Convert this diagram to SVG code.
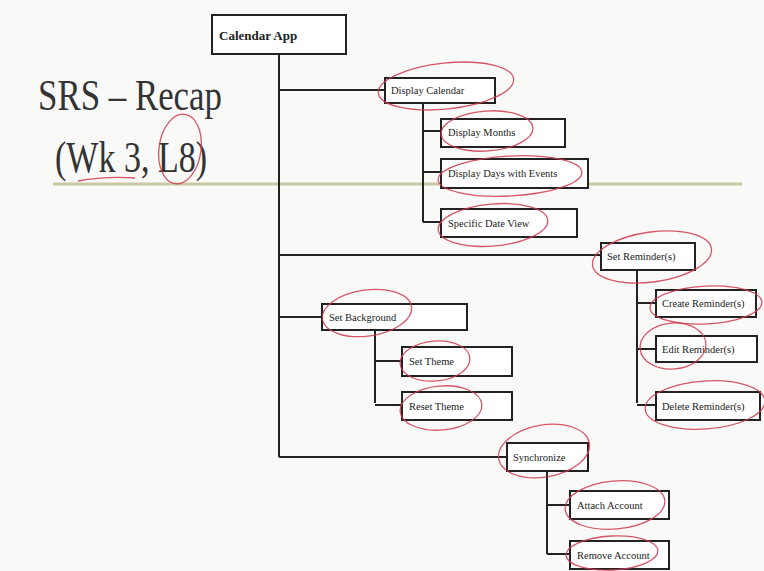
<svg xmlns="http://www.w3.org/2000/svg" width="764" height="571" viewBox="0 0 764 571">
<style>
.box{fill:#fff;stroke:#222;stroke-width:2}
.lbl{font-family:"Liberation Serif",serif;font-size:10.5px;fill:#222}
.ln{stroke:#222;stroke-width:2;fill:none}
.red{fill:none;stroke:#d03a4e;stroke-width:1.3;opacity:0.85}
</style>
<rect width="764" height="571" fill="#f9f9f8"/>
<text x="38" y="110" font-family="Liberation Serif,serif" font-size="44" fill="#333" textLength="184" lengthAdjust="spacingAndGlyphs">SRS – Recap</text>
<text x="55" y="172" font-family="Liberation Serif,serif" font-size="44" fill="#333" textLength="152" lengthAdjust="spacingAndGlyphs">(Wk 3, L8)</text>
<line x1="53" y1="184" x2="742" y2="184" stroke="#c9c9a2" stroke-width="3"/>
<g id="connectors">
<path class="ln" d="M279 54V457M279 90H385M279 255H601M279 317H322M279 457H507"/>
<path class="ln" d="M423 103V222M423 131H441M423 172H441M423 222H441"/>
<path class="ln" d="M637 270V403M637 303H656M637 349H656M637 405H656"/>
<path class="ln" d="M375 330V403M375 361H402M375 405H402"/>
<path class="ln" d="M547 471V554M547 505H570M547 554H570"/>
</g>
<g id="calendar-app"><rect class="box" x="212" y="15" width="134" height="39"/><text x="219" y="40" font-family="Liberation Serif,serif" font-size="13" font-weight="bold" fill="#222">Calendar App</text></g>
<g id="display-calendar"><rect class="box" x="385" y="78" width="110" height="25"/><text class="lbl" x="391" y="94">Display Calendar</text></g>
<g id="display-months"><rect class="box" x="441" y="119" width="124" height="28"/><text class="lbl" x="448" y="136">Display Months</text></g>
<g id="display-days"><rect class="box" x="441" y="159" width="147" height="29"/><text class="lbl" x="448" y="177">Display Days with Events</text></g>
<g id="specific-date"><rect class="box" x="441" y="209" width="136" height="28"/><text class="lbl" x="448" y="227">Specific Date View</text></g>
<g id="set-reminders"><rect class="box" x="601" y="243" width="94" height="27"/><text class="lbl" x="607" y="260">Set Reminder(s)</text></g>
<g id="create-reminders"><rect class="box" x="656" y="290" width="100" height="27"/><text class="lbl" x="662" y="307">Create Reminder(s)</text></g>
<g id="edit-reminders"><rect class="box" x="656" y="336" width="101" height="26"/><text class="lbl" x="662" y="353">Edit Reminder(s)</text></g>
<g id="delete-reminders"><rect class="box" x="656" y="392" width="104" height="28"/><text class="lbl" x="662" y="410">Delete Reminder(s)</text></g>
<g id="set-background"><rect class="box" x="322" y="304" width="145" height="26"/><text class="lbl" x="329" y="321">Set Background</text></g>
<g id="set-theme"><rect class="box" x="402" y="347" width="110" height="29"/><text class="lbl" x="409" y="365">Set Theme</text></g>
<g id="reset-theme"><rect class="box" x="402" y="392" width="110" height="28"/><text class="lbl" x="409" y="410">Reset Theme</text></g>
<g id="synchronize"><rect class="box" x="507" y="443" width="81" height="28"/><text class="lbl" x="513" y="461">Synchronize</text></g>
<g id="attach-account"><rect class="box" x="570" y="491" width="99" height="28"/><text class="lbl" x="577" y="509">Attach Account</text></g>
<g id="remove-account"><rect class="box" x="570" y="541" width="99" height="28"/><text class="lbl" x="577" y="559">Remove Account</text></g>
<g id="annotations">
<path class="red" d="M135 178Q105 176 78 181"/>
<ellipse class="red" cx="180" cy="149" rx="21" ry="35" transform="rotate(8 180 149)"/>
<ellipse class="red" cx="446" cy="86" rx="68" ry="23" transform="rotate(-6 446 86)"/>
<ellipse class="red" cx="487" cy="131" rx="46" ry="20" transform="rotate(-4 487 131)"/>
<ellipse class="red" cx="510" cy="176" rx="72" ry="20" transform="rotate(-3 510 176)"/>
<ellipse class="red" cx="493" cy="225" rx="55" ry="21" transform="rotate(-5 493 225)"/>
<ellipse class="red" cx="652" cy="257" rx="60" ry="25" transform="rotate(-8 652 257)"/>
<ellipse class="red" cx="706" cy="305" rx="56" ry="19" transform="rotate(-3 706 305)"/>
<ellipse class="red" cx="673" cy="346" rx="33" ry="23" transform="rotate(-5 673 346)"/>
<ellipse class="red" cx="705" cy="405" rx="60" ry="24" transform="rotate(-4 705 405)"/>
<ellipse class="red" cx="367" cy="313" rx="45" ry="23" transform="rotate(-8 367 313)"/>
<ellipse class="red" cx="435" cy="361" rx="35" ry="20" transform="rotate(-5 435 361)"/>
<ellipse class="red" cx="441" cy="408" rx="41" ry="22" transform="rotate(-5 441 408)"/>
<ellipse class="red" cx="544" cy="451" rx="46" ry="26" transform="rotate(-10 544 451)"/>
<ellipse class="red" cx="615" cy="505" rx="50" ry="24" transform="rotate(-5 615 505)"/>
<ellipse class="red" cx="612" cy="553" rx="46" ry="17" transform="rotate(-3 612 553)"/>
</g>
</svg>
